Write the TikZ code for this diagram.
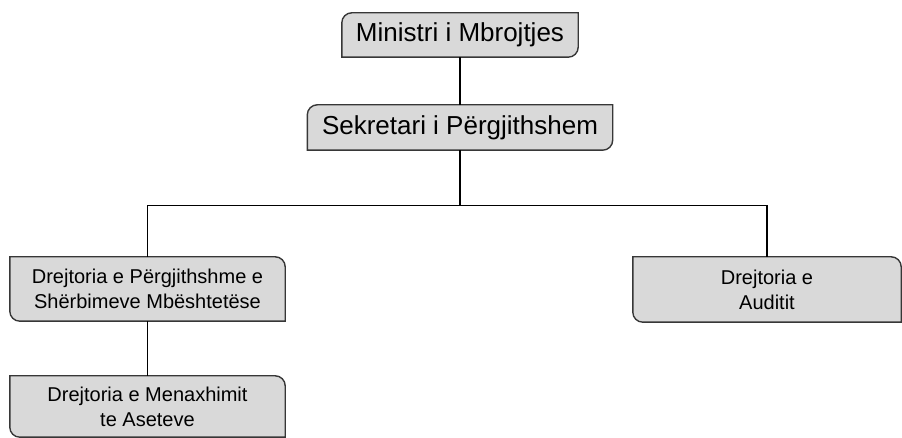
\documentclass[tikz,border=0pt]{standalone}
\usepackage{fontspec}
\setmainfont{Liberation Sans}
\usetikzlibrary{backgrounds}
\definecolor{boxgray}{RGB}{217,217,217}
\definecolor{edgegray}{RGB}{55,55,55}

% outline: rounded top-left and bottom-right corners
\newcommand{\cardA}[1]{%
  \draw[card] (#1.south west) -- ([yshift=-10pt]#1.north west)
    arc[start angle=180,end angle=90,radius=10pt] -- (#1.north east)
    -- ([yshift=10pt]#1.south east) arc[start angle=0,end angle=-90,radius=10pt] -- cycle;}
% outline: rounded top-right and bottom-left corners
\newcommand{\cardB}[1]{%
  \draw[card] (#1.north west) -- ([xshift=-10pt]#1.north east)
    arc[start angle=90,end angle=0,radius=10pt] -- (#1.south east)
    -- ([xshift=10pt]#1.south west) arc[start angle=270,end angle=180,radius=10pt] -- cycle;}

\begin{document}
\begin{tikzpicture}[x=1pt, y=1pt,
    card/.style={draw=edgegray, line width=1.4pt, fill=boxgray},
    head/.style={font=\fontsize{26}{30}\selectfont, minimum height=44pt, inner sep=0pt},
    unit/.style={font=\fontsize{20}{25}\selectfont, align=center, minimum width=275pt, minimum height=64pt, inner sep=0pt},
    link/.style={line width=1.2pt}]
    \useasboundingbox (0,0) rectangle (902,438);

    \node[head, minimum width=236pt] (minister) at (460,403) {Ministri i Mbrojtjes};
    \node[head, minimum width=305pt, minimum height=45pt] (secretary) at (460,310.5) {Sekretari i Përgjithshem};
    \node[unit] (support) at (147.5,149) {Drejtoria e Përgjithshme e\\Shërbimeve Mbështetëse};
    \node[unit, minimum width=268pt, minimum height=65pt] (audit) at (767,148.5) {Drejtoria e\\Auditit};
    \node[unit, minimum height=61pt] (assets) at (147.5,31.5) {Drejtoria e Menaxhimit\\te Aseteve};

    \begin{scope}[on background layer]
        \cardA{minister} \cardA{secretary}
        \cardB{support} \cardB{audit} \cardB{assets}
    \end{scope}

    \draw[link] (minister) -- (secretary);
    \draw[link] (secretary.south) -- ++(0,-55) coordinate (fork);
    \draw[link] (support.north) |- (fork) -| (audit.north);
    \draw[link] (support) -- (assets);
\end{tikzpicture}
\end{document}
